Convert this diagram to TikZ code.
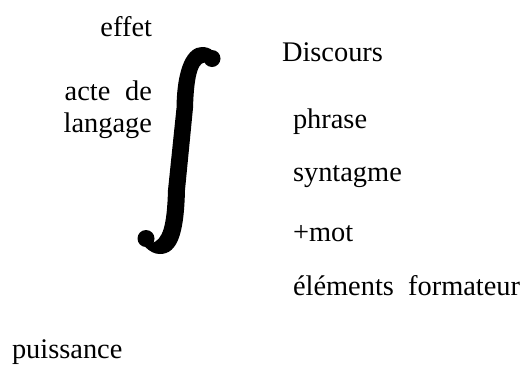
\documentclass[tikz,border=0pt]{standalone}
\usepackage{fontspec}
\setmainfont{Liberation Serif}
\usepackage{tikz}

\begin{document}
\begin{tikzpicture}[
      x=0.5pt, y=-0.5pt,
      every node/.style = {inner sep=0pt, outer sep=0pt,
        font=\fontsize{14.2}{16}\selectfont},
      leftword/.style = {anchor=base east, align=right},
      rightword/.style = {anchor=base west}
    ]
      \useasboundingbox (0,0) rectangle (530,365);
      \node[leftword] (effet) at (152,36) {effet};
      \node[leftword] (acte) at (152,132) {acte\hspace{0.52em}de\\langage};
      \node[rightword] (discours) at (282,61) {Discours};
      \node[rightword] (phrase) at (293,128) {phrase};
      \node[rightword] (syntagme) at (293,181) {syntagme};
      \node[rightword] (mot) at (293,241) {+mot};
      \node[rightword] (elements) at (293,295) {éléments\hspace{0.5em}formateur};
      \node[rightword] (puissance) at (12,358) {puissance};
      \fill (202,47) .. controls (188,47) and (177,66) .. (176.5,108)
        -- (168,190)
        .. controls (167,225) and (163,240) .. (152,243)
        -- (145,246.5)
        .. controls (150,252) and (155,254) .. (160,254)
        .. controls (178,254) and (184,232) .. (185,190)
        -- (193,108)
        .. controls (194,72) and (199,60) .. (207,63)
        -- (213,51)
        .. controls (210,48) and (206,47) .. (202,47) -- cycle;
      \fill (212,58.5) circle (8.5);
      \fill (146,238.5) circle (8.5);
    \end{tikzpicture}
\end{document}
